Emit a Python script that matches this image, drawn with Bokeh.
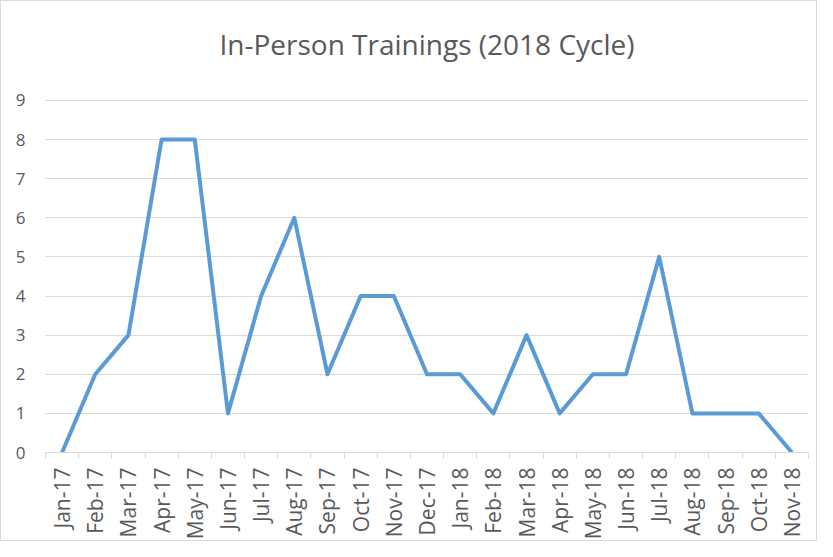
import math
from bokeh.plotting import figure
from bokeh.models import FixedTicker, Range1d, Label
from bokeh.embed import file_html
from bokeh.resources import INLINE

title_text = "In-Person Trainings (2018 Cycle)"
months = ["Jan-17", "Feb-17", "Mar-17", "Apr-17", "May-17", "Jun-17", "Jul-17", "Aug-17",
          "Sep-17", "Oct-17", "Nov-17", "Dec-17", "Jan-18", "Feb-18", "Mar-18", "Apr-18",
          "May-18", "Jun-18", "Jul-18", "Aug-18", "Sep-18", "Oct-18", "Nov-18"]
trainings = [0, 2, 3, 8, 8, 1, 4, 6, 2, 4, 4, 2, 2, 1, 3, 1, 2, 2, 5, 1, 1, 1, 0]
y_ticks = [0, 1, 2, 3, 4, 5, 6, 7, 8, 9]

idx = list(range(len(months)))

# extra headroom above the top gridline holds the chart title inside the frame
y_top = 11.4
title_y = 10.45

p = figure(width=817, height=541, output_backend="svg", toolbar_location=None,
           x_range=Range1d(-0.5, len(months) - 0.5), y_range=Range1d(0, y_top),
           min_border_left=44, min_border_right=10, min_border_top=5, min_border_bottom=89)
p.styles = {"border": "1px solid #d9d9d9"}
p.outline_line_color = None

title = Label(x=(len(months) - 1) / 2, y=title_y, text=title_text,
              text_align="center", text_baseline="middle",
              text_font="Open Sans", text_font_size="28px", text_color="#595959")
p.add_layout(title)

p.line(idx, trainings, line_color="#5b9bd5", line_width=4, line_join="round")

# x axis
p.xaxis.ticker = FixedTicker(ticks=idx, minor_ticks=[i - 0.5 for i in range(len(months) + 1)])
p.xaxis.major_label_overrides = {i: m for i, m in enumerate(months)}
p.xaxis.major_label_orientation = math.pi / 2
p.xaxis.major_tick_line_color = None
p.xaxis.minor_tick_line_color = "#d9d9d9"
p.xaxis.minor_tick_in = 0
p.xaxis.minor_tick_out = 6
p.xaxis.axis_line_color = "#d9d9d9"
p.xaxis.major_label_text_color = "#595959"
p.xaxis.major_label_text_font = "Open Sans"
p.xaxis.major_label_text_font_size = "21px"
p.xaxis.major_label_standoff = 9

# y axis
p.yaxis.ticker = FixedTicker(ticks=y_ticks)
p.yaxis.axis_line_color = None
p.yaxis.major_tick_line_color = None
p.yaxis.minor_tick_line_color = None
p.yaxis.major_label_text_color = "#595959"
p.yaxis.major_label_text_font = "Open Sans"
p.yaxis.major_label_text_font_size = "17px"
p.yaxis.major_label_standoff = 14

p.xgrid.grid_line_color = None
p.ygrid.ticker = FixedTicker(ticks=y_ticks)
p.ygrid.grid_line_color = "#d9d9d9"
p.ygrid.grid_line_width = 1

open("out.html", "w").write(file_html(p, INLINE))
